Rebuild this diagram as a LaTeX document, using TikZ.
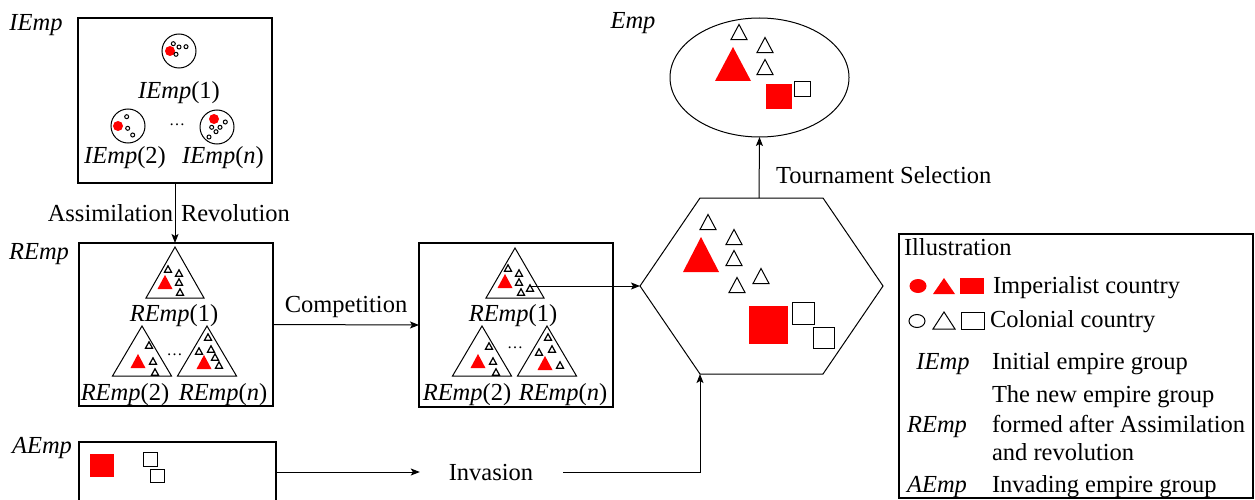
\documentclass[tikz,border=0pt]{standalone}
\usepackage{fontspec}
\setmainfont{Liberation Serif}
\usetikzlibrary{shapes.geometric,arrows.meta}
\newcommand\wtri[3]{\draw[wshape] ({#1-#3/2},{#2+0.47*#3}) -- (#1,{#2-0.47*#3}) -- ({#1+#3/2},{#2+0.47*#3}) -- cycle;}
\newcommand\stri[2]{\draw[line width=1.2pt, fill=white] ({#1-3.5},{#2+3.2}) -- (#1,{#2-3.2}) -- ({#1+3.5},{#2+3.2}) -- cycle;}
\newcommand\rtri[3]{\fill[red] ({#1-#3/2},{#2+0.47*#3}) -- (#1,{#2-0.47*#3}) -- ({#1+#3/2},{#2+0.47*#3}) -- cycle;}
\newcommand\bigtri[4]{\draw[line width=1pt] ({#1-#3},{#2+#4}) -- (#1,#2) -- ({#1+#3},{#2+#4}) -- cycle;}
\newcommand\smc[2]{\draw[line width=1pt] (#1,#2) circle (2);}
\begin{document}
\begin{tikzpicture}[x=1pt,y=-1pt,
  txt/.style={font=\fontsize{24.5}{28}\selectfont, inner sep=0pt, outer sep=0pt},
  itx/.style={txt, font=\fontsize{24.5}{28}\selectfont\itshape},
  dots/.style={font=\fontsize{16}{16}\selectfont, inner sep=0pt, anchor=base},
  bigbox/.style={draw, line width=2.5pt, inner sep=0pt, outer sep=0pt},
  arr/.style={line width=1pt, -{Stealth[length=9pt,width=7pt,inset=2pt]}},
  conn/.style={line width=1pt},
  wshape/.style={draw, line width=1pt, fill=white},
]
\clip (0,0) rectangle (1255,500);

% ---------- IEmp ----------
\node[itx, anchor=base] (liemp) at (36,31) {IEmp};
\node[bigbox, minimum width=194pt, minimum height=165pt] (iemp) at (175,100.5) {};
\draw[line width=1pt] (179,51) circle (17);
\fill[red] (170,51) circle (5);
\smc{173.3}{43.7}\smc{179}{47}\smc{186}{46.7}\smc{176}{54.3}
\node[txt, anchor=base] (i1) at (179,99) {\textit{IEmp}(1)};
\draw[line width=1pt] (128,126) circle (17);
\fill[red] (118,126) circle (5);
\smc{126.7}{116.7}\smc{127.7}{128.3}\smc{132.7}{135}
\node[dots] (idots) at (177,125) {…};
\draw[line width=1pt] (217,127) circle (17);
\fill[red] (214,119) circle (5);
\smc{211.7}{127.3}\smc{216}{131.7}\smc{220}{127.3}\smc{225.3}{122}\smc{209}{137}
\node[txt, anchor=base] (i2) at (125,164) {\textit{IEmp}(2)};
\node[txt, anchor=base] (in) at (223,164) {\textit{IEmp}(\textit{n})};

% ---------- REmp ----------
\node[itx, anchor=base] (lremp) at (39,259) {REmp};
\node[bigbox, minimum width=194pt, minimum height=163pt] (remp) at (176,324.5) {};
\bigtri{175}{247}{29}{51}
\rtri{165}{282}{15}
\stri{168}{269}\stri{179}{273}\stri{179}{282}\stri{180}{292}
\node[txt, anchor=base] (r1) at (174,321) {\textit{REmp}(1)};
\bigtri{142}{326}{29.5}{50}
\rtri{138}{361}{15}
\stri{149}{345}\stri{153}{361}\stri{155}{372}
\bigtri{207}{326}{29.5}{50}
\rtri{204}{362}{15}
\stri{208}{337}\stri{199}{351}\stri{211}{349}\stri{215}{357}\stri{219}{365}
\node[dots] (rdots) at (174.5,355) {…};
\node[txt, anchor=base] (r2) at (125,400) {\textit{REmp}(2)};
\node[txt, anchor=base] (rn) at (223,400) {\textit{REmp}(\textit{n})};

% ---------- second REmp box ----------
\node[bigbox, minimum width=194pt, minimum height=164pt] (cbox) at (516,325) {};
\bigtri{515}{248}{29}{50}
\rtri{505}{281}{15}
\stri{508}{268}\stri{519}{273}\stri{519}{282}\stri{521}{292}\stri{530}{288}
\coordinate (cstart) at (530,286);
\node[txt, anchor=base] (c1) at (513,321) {\textit{REmp}(1)};
\bigtri{482}{326}{29.5}{50}
\rtri{478}{361}{15}
\stri{489}{346}\stri{493}{361}\stri{496}{372}
\bigtri{547}{326}{29.5}{50}
\rtri{545}{363}{15}
\stri{548}{337}\stri{539}{352}\stri{552}{349}\stri{560}{365}
\node[dots] (cdots) at (515,348) {…};
\node[txt, anchor=base] (c2) at (467,400) {\textit{REmp}(2)};
\node[txt, anchor=base] (cn) at (563,400) {\textit{REmp}(\textit{n})};

% ---------- hexagon ----------
\coordinate (hTL) at (700,198);
\coordinate (hTR) at (823,198);
\coordinate (hR) at (883,286);
\coordinate (hBR) at (823,374);
\coordinate (hBL) at (700,374);
\coordinate (hL) at (640,286);
\coordinate (hTop) at (759,198);
\draw[line width=1pt] (hTL) -- (hTR) -- (hR) -- (hBR) -- (hBL) -- (hL) -- cycle;
\wtri{708}{222}{16}\wtri{734}{237}{16}\wtri{734}{258}{16}\wtri{761}{276}{16}\wtri{737}{285}{16}
\fill[red] (683,272) -- (701,237) -- (719,272) -- cycle;
\fill[red] (749,306) rectangle (788,344);
\draw[wshape] (792,302) rectangle (814,324);
\draw[wshape] (813,327) rectangle (834,348);

% ---------- Emp ----------
\node[itx, anchor=base] (lemp) at (633,29) {Emp};
\node[draw, ellipse, line width=1pt, minimum width=179pt, minimum height=119pt, inner sep=0pt, outer sep=0pt] (emp) at (759.5,77.5) {};
\wtri{739}{32}{16}\wtri{765}{45}{16}\wtri{765}{67}{16}
\fill[red] (715,81) -- (733,47) -- (751,81) -- cycle;
\fill[red] (766,84) rectangle (792,109);
\draw[wshape] (794,82) rectangle (810,97);

% ---------- AEmp ----------
\node[itx, anchor=base] (laemp) at (42,453) {AEmp};
\node[bigbox, minimum width=197pt, minimum height=78pt] (aemp) at (177.5,481) {};
\fill[red] (90,454) rectangle (114,477);
\draw[wshape] (143,452) rectangle (157,466);
\draw[wshape] (150,469) rectangle (164,482);

% ---------- connectors ----------
\draw[arr] (iemp.south) -- (iemp.south |- remp.north);
\node[txt, anchor=base east] (assim) at (173,221) {Assimilation};
\node[txt, anchor=base west] (revol) at (181,221) {Revolution};
\draw[arr] (remp.east) -- (cbox.west);
\node[txt, anchor=base] (comp) at (346,312) {Competition};
\draw[arr] (cstart) -- (hL);
\draw[arr] (hTop) -- (emp.south);
\node[txt, anchor=base west] (tourn) at (776,183) {Tournament Selection};
\node[txt, anchor=base] (inv) at (491,480) {Invasion};
\draw[arr] ([yshift=-30pt]aemp.north east) -- ([xshift=-29pt,yshift=8pt]inv.base west);
\draw[arr] ([xshift=30pt,yshift=8pt]inv.base east) -| (hBL);

% ---------- legend ----------
\node[draw, line width=2pt, minimum width=354pt, minimum height=264pt, inner sep=0pt, outer sep=0pt] (legend) at (1076,366) {};
\node[txt, anchor=base west] (lgt) at (904,255) {Illustration};
\fill[red] (918,286) ellipse (8.5 and 7);
\fill[red] (933,294) -- (944,278) -- (955,294) -- cycle;
\fill[red] (960,278) rectangle (984,294);
\node[txt, anchor=base west] (limp) at (993,293) {Imperialist country};
\draw[line width=1pt] (917,321) ellipse (8 and 6.5);
\draw[line width=1pt] (933,329) -- (944,312) -- (955,329) -- cycle;
\draw[line width=1pt] (961,312) rectangle (984,329);
\node[txt, anchor=base west] (lcol) at (990,327) {Colonial country};
\node[itx, anchor=base] (lgi) at (943,369) {IEmp};
\node[txt, anchor=base west] (lgit) at (992,369) {Initial empire group};
\node[txt, anchor=base west] (lgr1) at (992,402) {The new empire group};
\node[itx, anchor=base] (lgr) at (937,432) {REmp};
\node[txt, anchor=base west] (lgr2) at (992,432) {formed after Assimilation};
\node[txt, anchor=base west] (lgr3) at (992,460) {and revolution};
\node[itx, anchor=base] (lga) at (937,492) {AEmp};
\node[txt, anchor=base west] (lgat) at (992,492) {Invading empire group};
\end{tikzpicture}
\end{document}
